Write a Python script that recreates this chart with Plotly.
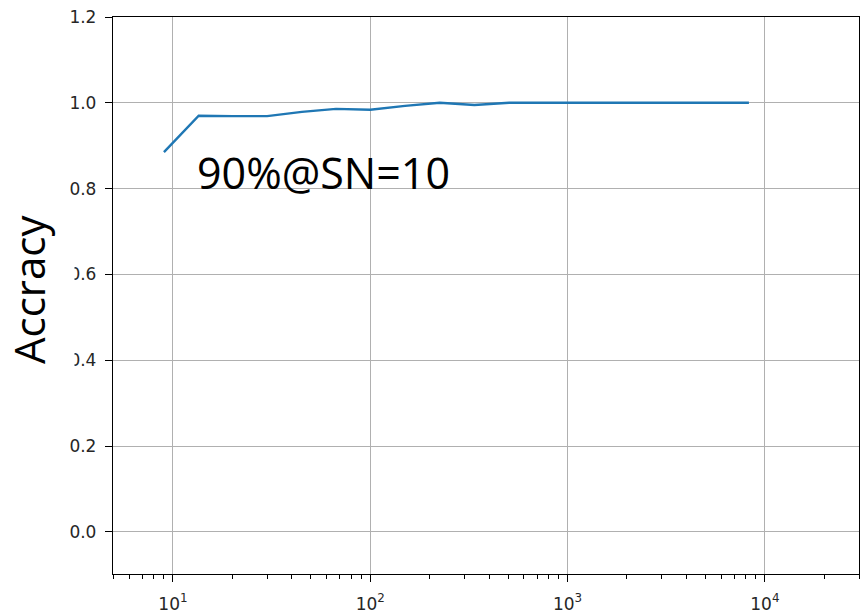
import plotly.graph_objects as go

# Signal-to-noise ratio (log scale) vs. classification accuracy
snr = [9, 13.5, 20, 30, 45, 67, 100, 150, 225, 337, 506, 759, 1139, 1709, 2563, 3844, 5767, 8300]
accuracy = [0.885, 0.970, 0.969, 0.969, 0.979, 0.986, 0.984, 0.993, 1.0, 0.995, 1.0, 1.0,
            1.0, 1.0, 1.0, 1.0, 1.0, 1.0]

x_tick_vals = [10, 100, 1000, 10000]
x_tick_text = ["10<sup>1</sup>", "10<sup>2</sup>", "10<sup>3</sup>", "10<sup>4</sup>"]
y_tick_vals = [0.0, 0.2, 0.4, 0.6, 0.8, 1.0, 1.2]

# minor log ticks at 2..9 of each decade
decades = [1, 10, 100, 1000, 10000]
x_minor_vals = [m * d for d in decades for m in range(2, 10)]

fig = go.Figure()
fig.add_trace(go.Scatter(
    x=snr, y=accuracy, mode="lines",
    line=dict(color="#1f77b4", width=2.4),
    showlegend=False,
))

axis_common = dict(
    showline=True, linecolor="black", linewidth=1.3, mirror=True,
    showgrid=True, gridcolor="#b0b0b0", gridwidth=1,
    ticks="outside", ticklen=7, tickcolor="black", tickwidth=1.2,
    zeroline=False, automargin=False,
)

fig.update_xaxes(
    type="log", range=[0.696, 4.477],
    tickvals=x_tick_vals, ticktext=x_tick_text,
    tickfont=dict(family="DejaVu Sans", size=17, color="#262626"),
    ticklabelstandoff=7,
    minor=dict(tickmode="array", tickvals=x_minor_vals, ticks="outside",
               ticklen=4, tickcolor="black", tickwidth=1, showgrid=False),
    **axis_common,
)
fig.update_yaxes(
    range=[-0.098, 1.2],
    tickvals=y_tick_vals, tickformat=".1f",
    tickfont=dict(family="DejaVu Sans", size=17, color="#262626"),
    ticklabelstandoff=5,
    **axis_common,
)

fig.add_annotation(
    text="90%@SN=10", xref="paper", yref="paper",
    x=(195 - 113) / 746, y=(574 - 172) / 557,
    xanchor="left", yanchor="middle", showarrow=False,
    font=dict(family="Open Sans", size=43, color="black"),
)
fig.add_annotation(
    text="Accracy", xref="paper", yref="paper", textangle=-90,
    x=-85 / 746, y=(574 - 290) / 557,
    xanchor="center", yanchor="middle", showarrow=False,
    bgcolor="white", borderpad=17,
    font=dict(family="Open Sans", size=42, color="black"),
)

fig.update_layout(
    width=864, height=614,
    margin=dict(l=113, r=5, t=17, b=40),
    paper_bgcolor="white", plot_bgcolor="white",
)

fig.write_html("out.html")
